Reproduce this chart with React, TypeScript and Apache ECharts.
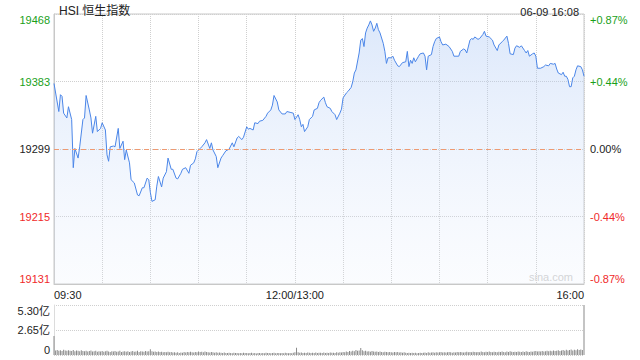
import React, { useEffect, useRef } from "react";
import * as echarts from "echarts";

// ---- data ----
const PREV_CLOSE = 19299.3;
const PRICE_MIN = 19131;
const PRICE_MAX = 19467.6;
const priceTicks = [19131, 19215.15, 19299.3, 19383.45, 19467.6];
const timeTicks = [0, 150, 330];
const timeLabels = ["09:30", "12:00/13:00", "16:00"];
const volumeTicks = [0, 2.65, 5.3];
const volumeTickLabels = ["0", "2.65亿", "5.30亿"];
const titleText = "HSI 恒生指数";
const stampText = "06-09 16:08";

// trading minutes since 09:30 (lunch break removed)
const minutes = [
  0, 3, 4, 5, 6, 8, 9, 11, 12, 13,
  15, 16, 18, 19, 20, 22, 23, 24, 26, 27,
  29, 30, 32, 33, 34, 35, 37, 38, 40, 41,
  43, 44, 45, 47, 48, 50, 52, 53, 55, 56,
  58, 59, 60, 61, 63, 64, 65, 67, 68, 70,
  71, 73, 74, 76, 77, 79, 80, 82, 84, 85,
  87, 88, 89, 91, 92, 94, 95, 97, 98, 99,
  101, 102, 104, 105, 107, 109, 111, 112, 114, 115,
  117, 118, 120, 121, 122, 124, 125, 127, 128, 130,
  132, 133, 135, 136, 137, 139, 140, 142, 144, 145,
  147, 149, 150, 152, 153, 154, 155, 156, 158, 159,
  161, 162, 164, 165, 166, 168, 169, 170, 172, 173,
  175, 176, 178, 179, 180, 182, 183, 185, 186, 187,
  188, 190, 191, 192, 193, 194, 195, 196, 197, 198,
  199, 200, 201, 202, 203, 205, 206, 207, 208, 210,
  211, 212, 214, 215, 217, 219, 220, 221, 222, 223,
  224, 225, 227, 228, 230, 231, 232, 233, 235, 236,
  237, 238, 240, 241, 242, 244, 246, 248, 249, 252,
  253, 255, 256, 257, 259, 260, 261, 262, 264, 265,
  267, 268, 269, 271, 273, 274, 276, 277, 279, 280,
  282, 283, 284, 286, 287, 288, 290, 291, 293, 294,
  295, 296, 298, 299, 300, 301, 303, 305, 306, 308,
  309, 311, 312, 313, 314, 316, 317, 318, 319, 320,
  321, 322, 323, 324, 325, 326, 328, 329, 330,
];

const prices = [
  19381, 19346, 19367, 19365, 19344, 19338, 19352, 19336, 19276, 19300,
  19288, 19302, 19336, 19338, 19366, 19348, 19338, 19319, 19340, 19321,
  19325, 19332, 19323, 19292, 19284, 19302, 19303, 19302, 19325, 19300,
  19309, 19286, 19298, 19282, 19261, 19257, 19242, 19241, 19251, 19251,
  19263, 19261, 19245, 19234, 19236, 19253, 19265, 19252, 19263, 19271,
  19288, 19274, 19274, 19263, 19262, 19269, 19274, 19276, 19269, 19279,
  19282, 19287, 19296, 19300, 19302, 19307, 19311, 19300, 19307, 19298,
  19290, 19276, 19288, 19291, 19297, 19299, 19307, 19302, 19313, 19315,
  19311, 19314, 19327, 19324, 19325, 19323, 19332, 19331, 19334, 19335,
  19340, 19344, 19348, 19354, 19366, 19358, 19348, 19343, 19343, 19346,
  19345, 19344, 19336, 19342, 19336, 19327, 19330, 19321, 19327, 19336,
  19340, 19348, 19350, 19357, 19360, 19364, 19357, 19352, 19350, 19346,
  19342, 19336, 19344, 19349, 19363, 19369, 19371, 19376, 19383, 19394,
  19398, 19419, 19435, 19437, 19427, 19444, 19450, 19454, 19459, 19454,
  19446, 19450, 19456, 19448, 19444, 19431, 19421, 19406, 19413, 19413,
  19415, 19410, 19403, 19402, 19407, 19408, 19421, 19402, 19410, 19406,
  19413, 19408, 19415, 19418, 19419, 19415, 19398, 19415, 19417, 19427,
  19433, 19437, 19439, 19433, 19429, 19430, 19427, 19421, 19415, 19415,
  19421, 19424, 19423, 19419, 19435, 19437, 19436, 19439, 19436, 19437,
  19442, 19446, 19440, 19439, 19435, 19429, 19422, 19429, 19433, 19435,
  19440, 19431, 19418, 19417, 19425, 19428, 19426, 19428, 19422, 19419,
  19422, 19415, 19418, 19419, 19415, 19400, 19400, 19402, 19404, 19403,
  19406, 19405, 19406, 19399, 19394, 19392, 19395, 19390, 19390, 19386,
  19377, 19377, 19388, 19390, 19398, 19403, 19402, 19398, 19390,
];

// per-minute turnover in 亿 (index = trading minute 0..330)
const volumes = [
  2.02, 0.48, 0.52, 0.45, 0.5, 0.43, 0.55, 0.47, 0.44, 0.51,
  0.46, 0.42, 0.53, 0.4, 0.47, 0.44, 0.39, 0.5, 0.43, 0.41,
  0.46, 0.38, 0.42, 0.48, 0.36, 0.4, 0.44, 0.35, 0.41, 0.37,
  0.43, 0.34, 0.39, 0.45, 0.36, 0.33, 0.4, 0.37, 0.42, 0.35,
  0.38, 0.44, 0.33, 0.36, 0.41, 0.34, 0.39, 0.32, 0.37, 0.43,
  0.35, 0.38, 0.46, 0.33, 0.4, 0.36, 0.34, 0.42, 0.37, 0.39,
  0.62, 0.41, 0.35, 0.38, 0.33, 0.36, 0.31, 0.34, 0.29, 0.33,
  0.3, 0.35, 0.28, 0.32, 0.27, 0.3, 0.25, 0.29, 0.22, 0.26,
  0.24, 0.31, 0.27, 0.33, 0.28, 0.35, 0.3, 0.26, 0.32, 0.29,
  0.36, 0.31, 0.34, 0.28, 0.38, 0.33, 0.3, 0.27, 0.32, 0.29,
  0.25, 0.28, 0.23, 0.27, 0.24, 0.21, 0.26, 0.22, 0.2, 0.24,
  0.21, 0.19, 0.23, 0.2, 0.22, 0.18, 0.21, 0.19, 0.23, 0.2,
  0.22, 0.18, 0.2, 0.23, 0.19, 0.21, 0.17, 0.2, 0.22, 0.18,
  0.21, 0.19, 0.24, 0.2, 0.22, 0.18, 0.21, 0.23, 0.19, 0.2,
  0.22, 0.18, 0.21, 0.19, 0.23, 0.2, 0.18, 0.22, 0.19, 0.25,
  0.3, 0.76, 0.28, 0.24, 0.27, 0.22, 0.25, 0.21, 0.26, 0.23,
  0.2, 0.24, 0.22, 0.27, 0.21, 0.25, 0.23, 0.2, 0.26, 0.22,
  0.24, 0.21, 0.27, 0.23, 0.25, 0.22, 0.28, 0.24, 0.3, 0.26,
  0.33, 0.29, 0.36, 0.31, 0.42, 0.38, 0.46, 0.4, 0.52, 0.44,
  0.48, 0.74, 0.5, 0.41, 0.45, 0.36, 0.39, 0.34, 0.43, 0.37,
  0.35, 0.38, 0.32, 0.36, 0.33, 0.3, 0.34, 0.31, 0.29, 0.33,
  0.3, 0.27, 0.32, 0.28, 0.31, 0.26, 0.29, 0.25, 0.28, 0.24,
  0.22, 0.25, 0.21, 0.24, 0.2, 0.23, 0.19, 0.22, 0.24, 0.21,
  0.23, 0.26, 0.22, 0.28, 0.24, 0.27, 0.3, 0.25, 0.29, 0.26,
  0.28, 0.31, 0.27, 0.3, 0.26, 0.29, 0.32, 0.28, 0.25, 0.3,
  0.27, 0.31, 0.28, 0.33, 0.29, 0.26, 0.3, 0.34, 0.28, 0.32,
  0.29, 0.35, 0.31, 0.28, 0.33, 0.3, 0.36, 0.32, 0.29, 0.34,
  0.31, 0.38, 0.33, 0.3, 0.35, 0.32, 0.29, 0.34, 0.31, 0.37,
  0.33, 0.3, 0.36, 0.32, 0.39, 0.34, 0.31, 0.35, 0.33, 0.38,
  0.34, 0.31, 0.36, 0.33, 0.4, 0.35, 0.32, 0.37, 0.34, 0.39,
  0.42, 0.36, 0.4, 0.37, 0.43, 0.38, 0.41, 0.45, 0.39, 0.44,
  0.4, 0.47, 0.42, 0.45, 0.5, 0.43, 0.48, 0.52, 0.46, 0.55,
  0.49, 0.53, 0.58, 0.47, 0.55, 0.51, 0.6, 0.54, 0.57, 0.52,
  5.3,
];

const FONT = "'Liberation Sans', Arial, 'Noto Sans CJK SC', sans-serif";
const GREEN = "#1a9f1a";
const RED = "#f02a2a";
const NEUTRAL = "#222";
const GRID_LINE = "#cfcfcf";

function priceColor(v: any) {
  const n = Number(v);
  if (n > PREV_CLOSE + 0.01) return GREEN;
  if (n < PREV_CLOSE - 0.01) return RED;
  return NEUTRAL;
}

function pctLabel(v: any) {
  const n = Number(v);
  const p = ((n - PREV_CLOSE) / PREV_CLOSE) * 100;
  if (Math.abs(p) < 0.005) return "0.00%";
  return (p > 0 ? "+" : "") + p.toFixed(2) + "%";
}

export default function App() {
  const ref = useRef<HTMLDivElement>(null);

  useEffect(() => {
    if (!ref.current) return;
    const chart = echarts.init(ref.current, undefined, { renderer: "svg" });

    const lineData = minutes.map((m, i) => [m, prices[i]]);
    const volData = volumes.map((v, i) => [i, v]);

    const option: any = {
      animation: false,
      backgroundColor: "#fff",
      textStyle: { fontFamily: FONT },
      title: [
        {
          text: titleText,
          left: 54,
          top: 0,
          textStyle: { fontSize: 12, fontWeight: "normal", color: "#222", fontFamily: FONT },
        },
        {
          text: stampText,
          right: 56,
          top: 1,
          textStyle: { fontSize: 11, fontWeight: "normal", color: "#222", fontFamily: FONT },
        },
      ],
      graphic: [
        {
          type: "text",
          right: 67,
          top: 271,
          silent: true,
          style: { text: "sina.com", fontSize: 11, fill: "#cfcfcf", fontFamily: FONT },
        },
      ],
      grid: [
        {
          left: 54,
          right: 56,
          top: 14,
          bottom: 76,
          show: true,
          borderColor: "#c8c8c8",
          borderWidth: 1,
          outerBoundsMode: "none",
        },
        {
          left: 54,
          right: 56,
          top: 305,
          bottom: 5,
          outerBoundsMode: "none",
        },
      ],
      xAxis: [
        {
          type: "value",
          gridIndex: 0,
          min: 0,
          max: 330,
          interval: 30,
          axisLine: { show: true, lineStyle: { color: "#c8c8c8" } },
          axisTick: { show: false },
          splitLine: { show: true, lineStyle: { color: GRID_LINE, type: "dotted" } },
          axisLabel: {
            customValues: timeTicks,
            formatter: (v: number) => timeLabels[timeTicks.indexOf(Math.round(v))] ?? "",
            color: "#222",
            fontSize: 11,
            margin: 5,
            alignMinLabel: "left",
            alignMaxLabel: "right",
            fontFamily: FONT,
          },
        },
        {
          type: "value",
          gridIndex: 1,
          min: 0,
          max: 330,
          interval: 30,
          axisLine: { show: false },
          axisTick: { show: false },
          splitLine: { show: false },
          axisLabel: { show: false },
        },
      ],
      yAxis: [
        {
          type: "value",
          gridIndex: 0,
          min: PRICE_MIN,
          max: PRICE_MAX,
          axisLine: { show: true, lineStyle: { color: "#c8c8c8" } },
          axisTick: { show: false, customValues: priceTicks },
          splitLine: { show: true, lineStyle: { color: GRID_LINE, type: "dotted" } },
          axisLabel: {
            customValues: priceTicks,
            formatter: (v: number) => String(Math.round(v)),
            color: (v: any) => priceColor(v),
            fontSize: 11,
            margin: 4,
            verticalAlignMinLabel: "bottom",
            verticalAlignMaxLabel: "top",
            fontFamily: FONT,
          },
        },
        {
          type: "value",
          gridIndex: 0,
          position: "right",
          min: PRICE_MIN,
          max: PRICE_MAX,
          axisLine: { show: false },
          axisTick: { show: false, customValues: priceTicks },
          splitLine: { show: false },
          axisLabel: {
            customValues: priceTicks,
            formatter: (v: number) => pctLabel(v),
            color: (v: any) => priceColor(v),
            fontSize: 11,
            margin: 6,
            verticalAlignMinLabel: "bottom",
            verticalAlignMaxLabel: "top",
            fontFamily: FONT,
          },
        },
        {
          type: "value",
          gridIndex: 1,
          min: 0,
          max: 5.3,
          axisLine: { show: true, lineStyle: { color: "#dcdcdc" } },
          axisTick: { show: false, customValues: volumeTicks },
          splitLine: { show: true, lineStyle: { color: GRID_LINE, type: "dotted" } },
          axisLabel: {
            customValues: volumeTicks,
            formatter: (v: number) => {
              const idx = volumeTicks.findIndex((t) => Math.abs(t - v) < 1e-6);
              return idx >= 0 ? volumeTickLabels[idx] : "";
            },
            color: "#222",
            fontSize: 11,
            margin: 4,
            verticalAlignMinLabel: "bottom",
            verticalAlignMaxLabel: "top",
            fontFamily: FONT,
          },
        },
      ],
      series: [
        {
          type: "line",
          xAxisIndex: 0,
          yAxisIndex: 0,
          data: lineData,
          showSymbol: false,
          symbol: "none",
          lineStyle: { color: "#4b86e8", width: 1 },
          areaStyle: {
            origin: "start",
            color: {
              type: "linear",
              x: 0,
              y: 0,
              x2: 0,
              y2: 1,
              colorStops: [
                { offset: 0, color: "rgba(166,196,244,0.55)" },
                { offset: 1, color: "rgba(230,238,252,0.25)" },
              ],
            },
          },
          markLine: {
            silent: true,
            symbol: ["none", "none"],
            label: { show: false },
            lineStyle: { color: "#ee9a72", type: [5, 4], width: 1 },
            data: [{ yAxis: PREV_CLOSE }],
          },
        },
        {
          type: "bar",
          xAxisIndex: 1,
          yAxisIndex: 2,
          data: volData,
          barWidth: 0.8,
          itemStyle: { color: "#8a8a8a" },
        },
      ],
    };

    chart.setOption(option);
    return () => chart.dispose();
  }, []);

  return (
    <div
      ref={ref}
      style={{ position: "fixed", left: 0, top: 0, width: 640, height: 360 }}
    />
  );
}
